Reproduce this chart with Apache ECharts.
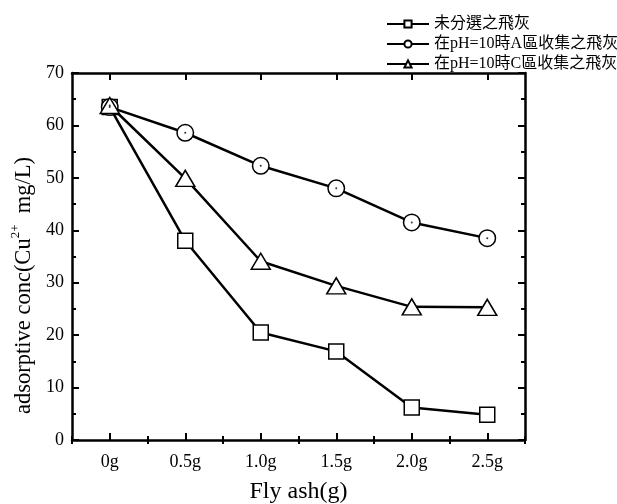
<!DOCTYPE html>
<html>
<head>
<meta charset="utf-8">
<script src="https://cdn.jsdelivr.net/npm/echarts@6/dist/echarts.min.js"></script>
<style>
  html, body { margin: 0; padding: 0; background: #fff; }
  #chart { width: 617px; height: 504px; }
</style>
</head>
<body>
<div id="chart"></div>
<script>
const categories = ["0g", "0.5g", "1.0g", "1.5g", "2.0g", "2.5g"];
const unsorted = [63.5, 38.0, 20.5, 16.9, 6.2, 4.8];
const areaA = [63.5, 58.6, 52.3, 48.0, 41.5, 38.5];
const areaC = [63.8, 49.9, 34.1, 29.4, 25.4, 25.3];
const seriesNames = ["未分選之飛灰", "在pH=10時A區收集之飛灰", "在pH=10時C區收集之飛灰"];

const serif = "'Liberation Serif', 'Times New Roman', 'Noto Sans CJK TC', serif";
const black = "#000";

const chart = echarts.init(document.getElementById("chart"));

const xMajor = (position) => ({
  type: "category",
  data: categories,
  position: position,
  boundaryGap: true,
  axisLine: { show: true, onZero: false, lineStyle: { color: black, width: 2.5 } },
  axisTick: { show: true, inside: true, alignWithLabel: true, length: 7, lineStyle: { color: black, width: 2 } },
  axisLabel: { show: position === "bottom", fontFamily: serif, fontSize: 18, color: black, margin: 13 },
  splitLine: { show: false },
});

const xMinor = (position) => ({
  type: "category",
  data: categories,
  position: position,
  boundaryGap: true,
  axisLine: { show: false },
  axisTick: { show: true, inside: true, alignWithLabel: false, length: 4, lineStyle: { color: black, width: 2 } },
  axisLabel: { show: false },
  splitLine: { show: false },
});

const yAxisOf = (position) => ({
  type: "value",
  position: position,
  min: 0,
  max: 70,
  interval: 10,
  axisLine: { show: true, onZero: false, lineStyle: { color: black, width: 2.5 } },
  axisTick: { show: true, inside: true, length: 7, lineStyle: { color: black, width: 2 } },
  minorTick: { show: true, splitNumber: 2, length: 4, lineStyle: { color: black, width: 2 } },
  axisLabel: { show: position === "left", fontFamily: serif, fontSize: 18, color: black, margin: 8 },
  splitLine: { show: false },
});

const lineSeries = (name, data, symbol, size) => ({
  name: name,
  type: "line",
  data: data,
  symbol: symbol,
  symbolSize: size,
  showAllSymbol: true,
  lineStyle: { color: black, width: 2.5 },
  itemStyle: { color: "#fff", borderColor: black, borderWidth: 1.5 },
  emphasis: { disabled: true },
  z: 3,
});

chart.setOption({
  backgroundColor: "#fff",
  animation: false,
  grid: { left: 72, right: 92, top: 73, bottom: 64, outerBoundsMode: "none", containLabel: false },
  legend: {
    orient: "vertical",
    left: 381,
    top: 11,
    itemWidth: 42,
    itemHeight: 9,
    itemGap: 4,
    textStyle: { fontFamily: serif, fontSize: 16, color: black },
    data: seriesNames,
  },
  xAxis: [
    Object.assign(xMajor("bottom"), {
      name: "Fly ash(g)",
      nameLocation: "middle",
      nameGap: 40,
      nameTextStyle: { fontFamily: serif, fontSize: 24, color: black },
    }),
    xMinor("bottom"),
    xMajor("top"),
    xMinor("top"),
  ],
  yAxis: [
    Object.assign(yAxisOf("left"), {
      name: "{t|adsorptive conc(Cu}{s|2+}{t|  mg/L)}",
      nameLocation: "middle",
      nameGap: 37,
      nameTextStyle: {
        padding: [0, 58, 0, 0],
        rich: {
          t: { fontFamily: serif, fontSize: 22.5, color: black, verticalAlign: "bottom", lineHeight: 26 },
          s: { fontFamily: serif, fontSize: 13, color: black, verticalAlign: "top", lineHeight: 24 },
        },
      },
    }),
    yAxisOf("right"),
  ],
  series: [
    lineSeries(seriesNames[0], unsorted, "rect", 15),
    lineSeries(seriesNames[1], areaA, "circle", 16.5),
    {
      type: "scatter",
      data: areaA,
      symbol: "circle",
      symbolSize: 2,
      itemStyle: { color: black },
      silent: true,
      z: 4,
    },
    lineSeries(seriesNames[2], areaC, "triangle", [19, 16]),
    {
      type: "scatter",
      data: areaC.slice(0, 1),
      symbol: "circle",
      symbolSize: 2,
      itemStyle: { color: black },
      silent: true,
      z: 4,
    },
  ],
});
</script>
</body>
</html>
